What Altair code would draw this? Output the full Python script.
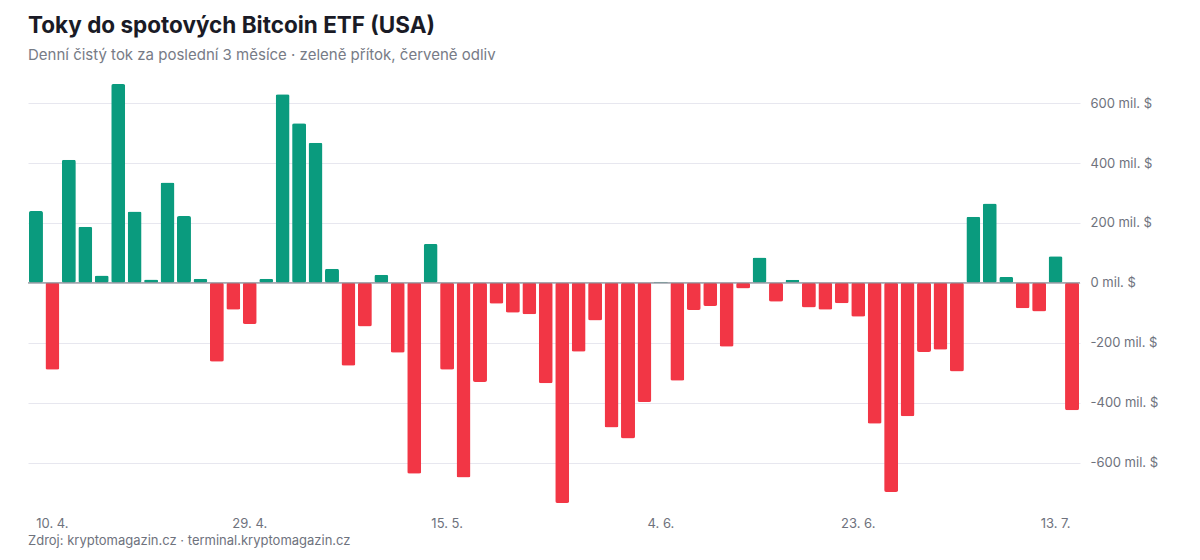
import altair as alt
import pandas as pd

# Daily net flows (mil. USD), one value per trading day
flows = [
    240, -290, 411, 187, 25, 664, 238, 11, 335, 223,
    14, -263, -90, -137, 14, 630, 533, 468, 47, -277,
    -146, 27, -233, -637, 130, -290, -650, -331, -70, -100,
    -105, -335, -735, -230, -126, -483, -520, -398, 4, -327,
    -91, -77, -213, -19, 85, -63, 10, -82, -90, -68,
    -113, -470, -698, -445, -231, -223, -296, 221, 265, 20,
    -85, -96, 89, -425,
]

# x-axis tick labels and the trading-day index they sit at
tick_index = [1, 13, 25, 38, 50, 62]
tick_labels = ["10. 4.", "29. 4.", "15. 5.", "4. 6.", "23. 6.", "13. 7."]

y_ticks = [-600, -400, -200, 0, 200, 400, 600]

TITLE = "Toky do spotových Bitcoin ETF (USA)"
SUBTITLE = "Denní čistý tok za poslední 3 měsíce · zeleně přítok, červeně odliv"
FOOTER = "Zdroj: kryptomagazin.cz · terminal.kryptomagazin.cz"

GREEN = "#0a9b7e"
RED = "#f23645"
FONT = "Inter"
GREY = "#6e727d"

df = pd.DataFrame({"i": list(range(len(flows))), "flow": flows})
df["typ"] = ["přítok" if v >= 0 else "odliv" for v in flows]

label_expr = "".join(
    f"datum.value == {i} ? '{lab}' : " for i, lab in zip(tick_index, tick_labels)
) + "''"

W, H = 1052, 419

x_enc = alt.X(
    "i:O",
    scale=alt.Scale(paddingInner=0.15, paddingOuter=0.06),
    axis=alt.Axis(
        values=tick_index,
        labelExpr=label_expr,
        title=None,
        ticks=False,
        domain=False,
        grid=False,
        labelAngle=0,
        labelPadding=14,
        labelFont=FONT,
        labelFontSize=13,
        labelColor=GREY,
    ),
)

bars = alt.Chart(df).mark_bar(cornerRadius=2).encode(
    x=x_enc,
    y=alt.Y(
        "flow:Q",
        scale=alt.Scale(nice=False, zero=True),
        axis=alt.Axis(
            orient="right",
            values=y_ticks,
            labelExpr="datum.value + ' mil. $'",
            title=None,
            ticks=False,
            domain=False,
            grid=True,
            gridColor="#e7e7ef",
            gridWidth=1,
            labelPadding=10,
            labelFont=FONT,
            labelFontSize=13,
            labelColor=GREY,
        ),
    ),
    color=alt.Color(
        "typ:N",
        scale=alt.Scale(domain=["přítok", "odliv"], range=[GREEN, RED]),
        legend=None,
    ),
)

zero = alt.Chart(pd.DataFrame({"v": [0]})).mark_rule(color="#8a8d96", strokeWidth=1.2).encode(
    y="v:Q"
)

footer = alt.Chart(pd.DataFrame({"t": [FOOTER]})).mark_text(
    align="left", baseline="middle", font=FONT, fontSize=13, color=GREY
).encode(text="t:N", x=alt.value(0), y=alt.value(H + 38))

chart = (
    alt.layer(bars, zero, footer)
    .properties(
        width=W,
        height=H,
        background="white",
        autosize=alt.AutoSizeParams(type="none"),
        padding={"left": 28, "top": 84, "right": 120, "bottom": 57},
        title=alt.TitleParams(
            text=TITLE,
            subtitle=SUBTITLE,
            anchor="start",
            frame="group",
            font=FONT,
            fontSize=22.5,
            fontWeight="bold",
            color="#1a1b26",
            subtitleFont=FONT,
            subtitleFontSize=15,
            subtitleColor="#777b86",
            subtitlePadding=11,
            offset=21,
        ),
    )
    .configure_view(stroke=None)
)

chart.save("out.html", embed_options={"renderer": "svg", "actions": False})
